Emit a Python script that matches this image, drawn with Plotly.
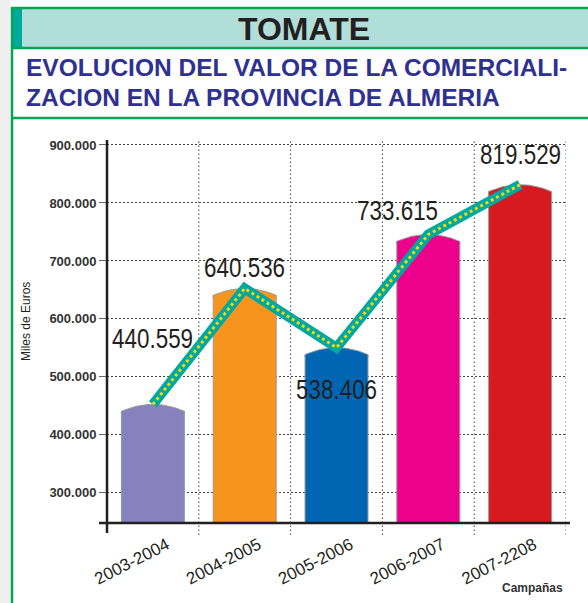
import plotly.graph_objects as go

# campaign values (miles de euros)
campanas = ["2003-2004", "2004-2005", "2005-2006", "2006-2007", "2007-2208"]
valores = [440559, 640536, 538406, 733615, 819529]
y_ticks = [300000, 400000, 500000, 600000, 700000, 800000, 900000]

colores = ["#8781bd", "#f7941d", "#0066b3", "#ec008c", "#d71920"]
label_dy = [73, 28, -35, 31, 37]   # pixel offset of value labels
label_dx = [0, 0, 0, -31, 0]

W, H = 588, 603
L, R, T, B = 107, 22, 140, 80
PW, PH = W - L - R, H - T - B
BAR_W = 0.686
DOME = 12000


def fx(p):
    return (p - L) / PW


def fy(p):
    return (H - B - p) / PH


def fmt(v):
    return f"{v:,}".replace(",", ".")


fig = go.Figure()

xs = list(range(len(campanas)))

fig.add_trace(go.Bar(
    x=xs, y=valores, width=BAR_W,
    marker=dict(color=colores, line=dict(color="#9a9a9a", width=1)),
    hoverinfo="skip",
))

# domed tops of the bars
hw = BAR_W / 2
n = 24
arc_x, arc_y = [], []
for i, v in enumerate(valores):
    px_, py_ = [i - hw], [v - 4000]
    for k in range(n + 1):
        t = -1 + 2 * k / n
        px_.append(i + hw * t)
        py_.append(v + DOME * (1 - t * t))
    px_.append(i + hw)
    py_.append(v - 4000)
    fig.add_trace(go.Scatter(x=px_, y=py_, mode="lines", fill="toself",
                             fillcolor=colores[i], line=dict(width=0),
                             hoverinfo="skip"))
    arc_x += px_ + [None]
    arc_y += py_ + [None]
fig.add_trace(go.Scatter(x=arc_x, y=arc_y, mode="lines",
                         line=dict(color="#9a9a9a", width=1), hoverinfo="skip"))

# trend line on top of the bars
line_y = [v + DOME for v in valores]
fig.add_trace(go.Scatter(x=xs, y=line_y, mode="lines",
                         line=dict(color="#00a99d", width=10), hoverinfo="skip"))
fig.add_trace(go.Scatter(x=xs, y=line_y, mode="lines",
                         line=dict(color="#f5d50f", width=3, dash="3px,3px"),
                         hoverinfo="skip"))

for i, v in enumerate(valores):
    fig.add_annotation(x=i, y=v, text=fmt(v), showarrow=False,
                       xshift=label_dx[i], yshift=label_dy[i], yanchor="middle",
                       font=dict(family="Liberation Sans, Arial, sans-serif",
                                 size=28, color="#231f20"))

shapes = []
# header
shapes.append(dict(type="rect", xref="paper", yref="paper", x0=fx(0), x1=fx(10), y0=fy(0), y1=fy(H),
                   fillcolor="#efefef", line=dict(width=0), layer="below"))
shapes.append(dict(type="rect", xref="paper", yref="paper", x0=fx(12), x1=fx(W + 5), y0=fy(9), y1=fy(48),
                   fillcolor="#b2deda", line=dict(width=0)))
shapes.append(dict(type="rect", xref="paper", yref="paper", x0=fx(11), x1=fx(22), y0=fy(9), y1=fy(48),
                   fillcolor="#00a99d", line=dict(width=0)))
for yy in [8, 48, 118]:
    shapes.append(dict(type="line", xref="paper", yref="paper", x0=fx(11), x1=fx(W + 5), y0=fy(yy), y1=fy(yy),
                       line=dict(color="#00a651", width=2.5)))
shapes.append(dict(type="line", xref="paper", yref="paper", x0=fx(12), x1=fx(12), y0=fy(7), y1=fy(H + 5),
                   line=dict(color="#00a651", width=2.5)))

# vertical dotted grid at category borders
for i in range(len(campanas)):
    shapes.append(dict(type="line", xref="x", yref="paper", x0=i + 0.5, x1=i + 0.5,
                       y0=fy(535), y1=1, layer="below",
                       line=dict(color="#444", width=1, dash="1.5px,2.5px")))
# axis lines
shapes.append(dict(type="line", xref="paper", yref="paper", x0=0, x1=0, y0=fy(533), y1=1,
                   line=dict(color="#231f20", width=2.5)))
shapes.append(dict(type="line", xref="paper", yref="paper", x0=fx(99), x1=fx(570), y0=0, y1=0,
                   line=dict(color="#231f20", width=2.5)))

fig.update_layout(shapes=shapes)

txt = dict(xref="paper", yref="paper", showarrow=False, yanchor="middle")
fig.add_annotation(x=fx(304), y=fy(29), xanchor="center", text="<b>TOMATE</b>",
                   font=dict(family="Arial, Liberation Sans", size=32, color="#231f20"), **txt)
fig.add_annotation(x=fx(24), y=fy(68), xanchor="left",
                   text="<b>EVOLUCION DEL VALOR DE LA COMERCIALI-</b>",
                   font=dict(family="Arial, Liberation Sans", size=24.5, color="#2e3192"), **txt)
fig.add_annotation(x=fx(24), y=fy(98), xanchor="left",
                   text="<b>ZACION EN LA PROVINCIA DE ALMERIA</b>",
                   font=dict(family="Arial, Liberation Sans", size=24.5, color="#2e3192"), **txt)
fig.add_annotation(x=fx(26), y=fy(322), xanchor="center", text="Miles de Euros", textangle=-90,
                   font=dict(family="Arial, Liberation Sans", size=12, color="#231f20"), **txt)
fig.add_annotation(x=fx(532), y=fy(588), xanchor="center", text="<b>Campañas</b>",
                   font=dict(family="Arial, Liberation Sans", size=12, color="#333"), **txt)

fig.update_layout(
    width=W, height=H,
    margin=dict(l=L, r=R, t=T, b=B),
    paper_bgcolor="white", plot_bgcolor="white",
    showlegend=False,
    separators=",.",
    barmode="overlay",
    xaxis=dict(range=[-0.5, len(campanas) - 0.5], tickvals=xs, ticktext=campanas,
               tickangle=-27, showgrid=False, zeroline=False, showline=False, ticks="",
               ticklabelshift=14, ticklabelstandoff=8,
               tickfont=dict(family="Arial, Liberation Sans", size=17, color="#231f20")),
    yaxis=dict(range=[248000, 908600], tickvals=y_ticks, tickformat=",d",
               showgrid=True, gridcolor="#444", gridwidth=1, griddash="1.5px,2.5px",
               zeroline=False, showline=False, ticks="outside", ticklen=7, tickcolor="#666",
               tickfont=dict(family="Arial, Liberation Sans", size=13, color="#333", weight="bold")),
)

# page margin off, and squeeze the big value labels like a condensed face
post = """
document.body.style.margin = '0px';
for (var i = 0; i < 5; i++) {
  var t = document.querySelector('.annotation[data-index="' + i + '"] text');
  if (t) {
    t.style.transformBox = 'fill-box';
    t.style.transformOrigin = 'center';
    t.style.transform = 'scaleX(0.8)';
  }
}
"""

fig.write_html("out.html", post_script=post, config={"displayModeBar": False})
